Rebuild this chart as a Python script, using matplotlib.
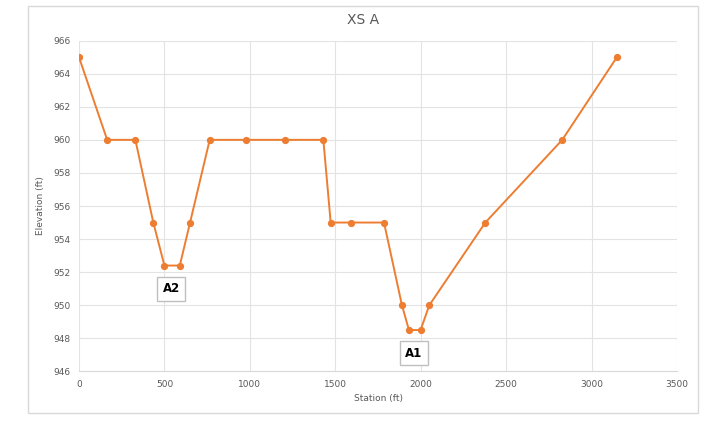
import matplotlib.pyplot as plt
from matplotlib.patches import Rectangle

# cross-section XS A
station = [0, 165, 330, 435, 500, 590, 650, 765, 977, 1205, 1430,
           1473, 1594, 1785, 1890, 1931, 1999, 2050, 2378, 2828, 3148]
elevation = [965, 960, 960, 955, 952.4, 952.4, 955, 960, 960, 960, 960,
             955, 955, 955, 950, 948.5, 948.5, 950, 955, 960, 965]

label_names = ['A2', 'A1']
label_x = [540, 1960]
label_y = [951.0, 947.1]

text_color = '#595959'
grid_color = '#e3e3e3'
line_color = '#ED7D31'

fig = plt.figure(figsize=(7.18, 4.23), dpi=100)
ax = fig.add_axes([0.110, 0.122, 0.833, 0.782])

# chart border
fig.patches.append(Rectangle((28 / 718, 1 - 413 / 423), 670 / 718, 407 / 423,
                             transform=fig.transFigure, fill=False,
                             edgecolor='#d9d9d9', linewidth=1.0))

ax.plot(station, elevation, color=line_color, linewidth=1.4,
        marker='o', markersize=4.2, zorder=3)

for name, x, y in zip(label_names, label_x, label_y):
    ax.text(x, y, name, ha='center', va='center', fontsize=8.5,
            fontweight='bold', color='black', zorder=4,
            bbox=dict(boxstyle='square,pad=0.45', facecolor='white',
                      edgecolor='#bfbfbf', linewidth=1.0))

ax.set_xlim(0, 3500)
ax.set_ylim(946, 966)
ax.set_xticks(range(0, 3501, 500))
ax.set_yticks(range(946, 967, 2))
ax.grid(True, color=grid_color, linewidth=0.8)
ax.set_axisbelow(True)

for side in ['top', 'right', 'left']:
    ax.spines[side].set_visible(False)
ax.spines['bottom'].set_color('#d9d9d9')
ax.tick_params(length=0, labelsize=6.5, colors=text_color, pad=6)

ax.set_xlabel('Station (ft)', fontsize=6.5, color=text_color, labelpad=4)
ax.set_ylabel('Elevation (ft)', fontsize=6.5, color=text_color, labelpad=6)
fig.text(363 / 718, 1 - 20 / 423, 'XS A', ha='center', va='center',
         fontsize=10, color=text_color)

fig.savefig('out.png', dpi=100)
